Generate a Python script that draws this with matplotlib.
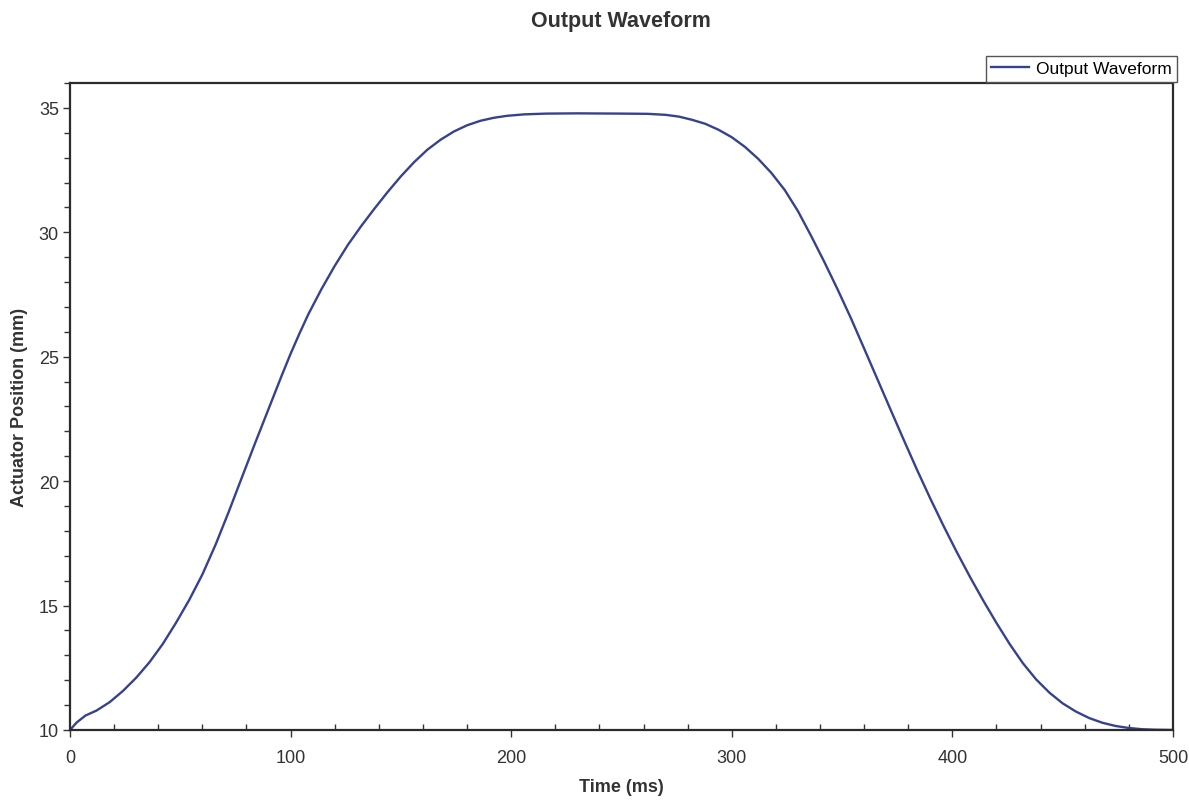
import matplotlib
matplotlib.use('Agg')
import matplotlib.pyplot as plt
from matplotlib.ticker import MultipleLocator

plt.rcParams['font.family'] = ['Liberation Sans', 'DejaVu Sans']

# actuator output (time in ms, position in mm)
time_ms = [0, 3, 7, 12, 18, 24, 30, 36, 42, 48, 54, 60, 66, 72, 78, 84, 90,
           96, 100, 104, 108, 114, 120, 126, 132, 138, 144, 150, 156, 162,
           168, 174, 180, 186, 192, 198, 206, 216, 230, 250, 262, 270, 276,
           282, 288, 294, 300, 306, 312, 318, 324, 330, 336, 342, 348, 354,
           360, 366, 372, 378, 384, 390, 396, 402, 408, 414, 420, 426, 432,
           438, 444, 450, 456, 462, 468, 474, 480, 486, 492, 500]
position_mm = [10.0, 10.3, 10.58, 10.78, 11.12, 11.57, 12.1, 12.72, 13.45,
               14.3, 15.22, 16.25, 17.45, 18.78, 20.17, 21.55, 22.9, 24.25,
               25.12, 25.93, 26.7, 27.72, 28.65, 29.5, 30.25, 30.95, 31.62,
               32.25, 32.82, 33.32, 33.72, 34.05, 34.3, 34.48, 34.6, 34.68,
               34.74, 34.77, 34.78, 34.77, 34.76, 34.72, 34.65, 34.52, 34.36,
               34.12, 33.82, 33.43, 32.95, 32.38, 31.7, 30.85, 29.85, 28.8,
               27.7, 26.55, 25.33, 24.1, 22.87, 21.65, 20.45, 19.3, 18.2,
               17.15, 16.15, 15.2, 14.3, 13.45, 12.68, 12.03, 11.5, 11.07,
               10.74, 10.48, 10.29, 10.16, 10.08, 10.03, 10.01, 10.0]

fig = plt.figure(figsize=(11.89, 8.03), dpi=100)
ax = fig.add_axes([0.0589, 0.0897, 0.9276, 0.8057])

ax.plot(time_ms, position_mm, color='#37428e', linewidth=1.7,
        solid_joinstyle='round', label='Output Waveform')

ax.set_xlim(0, 500)
ax.set_ylim(10, 36)
ax.xaxis.set_major_locator(MultipleLocator(100))
ax.xaxis.set_minor_locator(MultipleLocator(20))
ax.yaxis.set_major_locator(MultipleLocator(5))
ax.yaxis.set_minor_locator(MultipleLocator(1))

ax.tick_params(axis='x', which='major', direction='out', length=5, width=1,
               labelsize=13, pad=9, colors='#333333')
ax.tick_params(axis='x', which='minor', direction='in', length=4, width=1, colors='#333333')
ax.tick_params(axis='y', which='major', direction='out', length=5, width=1,
               labelsize=13, pad=3, colors='#333333')
ax.tick_params(axis='y', which='minor', direction='out', length=4, width=1, colors='#333333')

for s in ax.spines.values():
    s.set_linewidth(1.6)
    s.set_color('#2b2b2b')

ax.set_xlabel('Time (ms)', fontsize=13, fontweight='bold', color='#333333', labelpad=8)
ax.set_ylabel('Actuator Position (mm)', fontsize=13, fontweight='bold', color='#333333', labelpad=8)
fig.text(0.5225, 0.973, 'Output Waveform', fontsize=15.5, fontweight='bold',
         color='#333333', ha='center', va='center')

leg = ax.legend(loc='upper right', bbox_to_anchor=(0.99, 0.929), bbox_transform=fig.transFigure,
                borderaxespad=0, fancybox=False, framealpha=1, fontsize=12.5,
                handlelength=2.2, handletextpad=0.4, borderpad=0.3)
leg.get_frame().set_edgecolor('#555555')
leg.get_frame().set_linewidth(1.0)

fig.savefig('out.png', dpi=100)
